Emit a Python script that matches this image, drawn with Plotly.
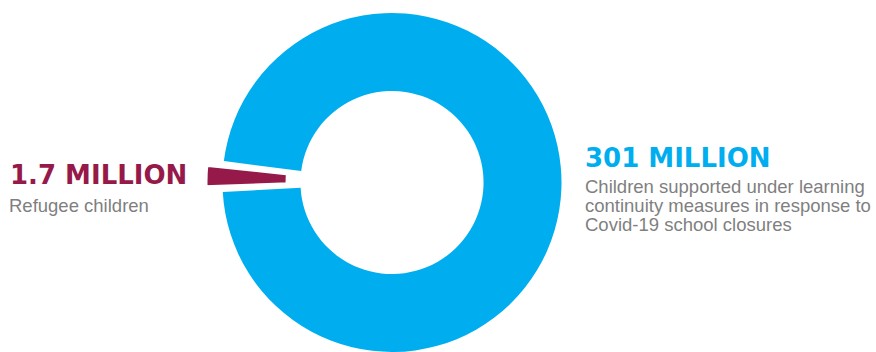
import plotly.graph_objects as go

# ---- data ----
categories = ["Refugee children",
              "Children supported under learning continuity measures in response to Covid-19 school closures"]
values_millions = [1.7, 301]
headlines = ["1.7 MILLION", "301 MILLION"]
desc_lines_red = ["Refugee children"]
desc_lines_blue = ["Children supported under learning",
                   "continuity measures in response to",
                   "Covid-19 school closures"]
# angular sizes as drawn in the graphic (small slice visually exaggerated), degrees
drawn_red_deg = 7.9
drawn_gap_deg = 10.5
slice_center_clock_deg = 272  # clockwise from 12 o'clock

BLUE = "#00AEEF"
RED = "#961A49"
GREY = "#7F7F7F"
W, H = 876, 352


def px_x(x):
    return x / W


def px_y(y):
    return 1 - y / H


def dom(cx, cy, r):
    return dict(x=[px_x(cx - r), px_x(cx + r)], y=[max(0, px_y(cy + r)), px_y(cy - r)])


fig = go.Figure()

# main (blue) ring with an opening where the small slice sits
fig.add_trace(go.Pie(
    values=[drawn_gap_deg, 360 - drawn_gap_deg],
    labels=["gap", categories[1]],
    marker=dict(colors=["rgba(0,0,0,0)", BLUE], line=dict(width=0)),
    hole=0.54, sort=False, direction="clockwise",
    rotation=slice_center_clock_deg - drawn_gap_deg / 2 - 360,
    textinfo="none", hoverinfo="skip", showlegend=False,
    domain=dom(392, 182.5, 169.5),
))

# pulled-out small (red) slice
fig.add_trace(go.Pie(
    values=[drawn_red_deg, 360 - drawn_red_deg],
    labels=[categories[0], "rest"],
    marker=dict(colors=[RED, "rgba(0,0,0,0)"],
                line=dict(width=[5, 0], color=["white", "rgba(0,0,0,0)"])),
    hole=0.51, sort=False, direction="clockwise",
    rotation=slice_center_clock_deg - drawn_red_deg / 2 - 360,
    textinfo="none", hoverinfo="skip", showlegend=False,
    domain=dom(374.5, 181.9, 169.5),
))

ann = []
HEAD_FONT = "DejaVu Sans"
BODY_FONT = "Liberation Sans, Arial, sans-serif"


def add_text(text, x, ycenter, size, color, family, bold=False):
    ann.append(dict(
        text=f"<b>{text}</b>" if bold else text,
        x=px_x(x), y=px_y(ycenter), xref="paper", yref="paper",
        xanchor="left", yanchor="middle", showarrow=False,
        font=dict(family=family, size=size, color=color),
    ))


add_text(headlines[0], 8, 174.5, 26, RED, HEAD_FONT, bold=True)
add_text(desc_lines_red[0], 7, 205, 18.5, GREY, BODY_FONT)
add_text(headlines[1], 583, 157.5, 26, BLUE, HEAD_FONT, bold=True)
for line, yc in zip(desc_lines_blue, [186, 205.4, 224.8]):
    add_text(line, 583, yc, 18.5, GREY, BODY_FONT)

fig.update_layout(
    width=W, height=H, margin=dict(l=0, r=0, t=0, b=0),
    template="none", paper_bgcolor="white", plot_bgcolor="white",
    annotations=ann, showlegend=False,
)

fig.write_html("out.html")
